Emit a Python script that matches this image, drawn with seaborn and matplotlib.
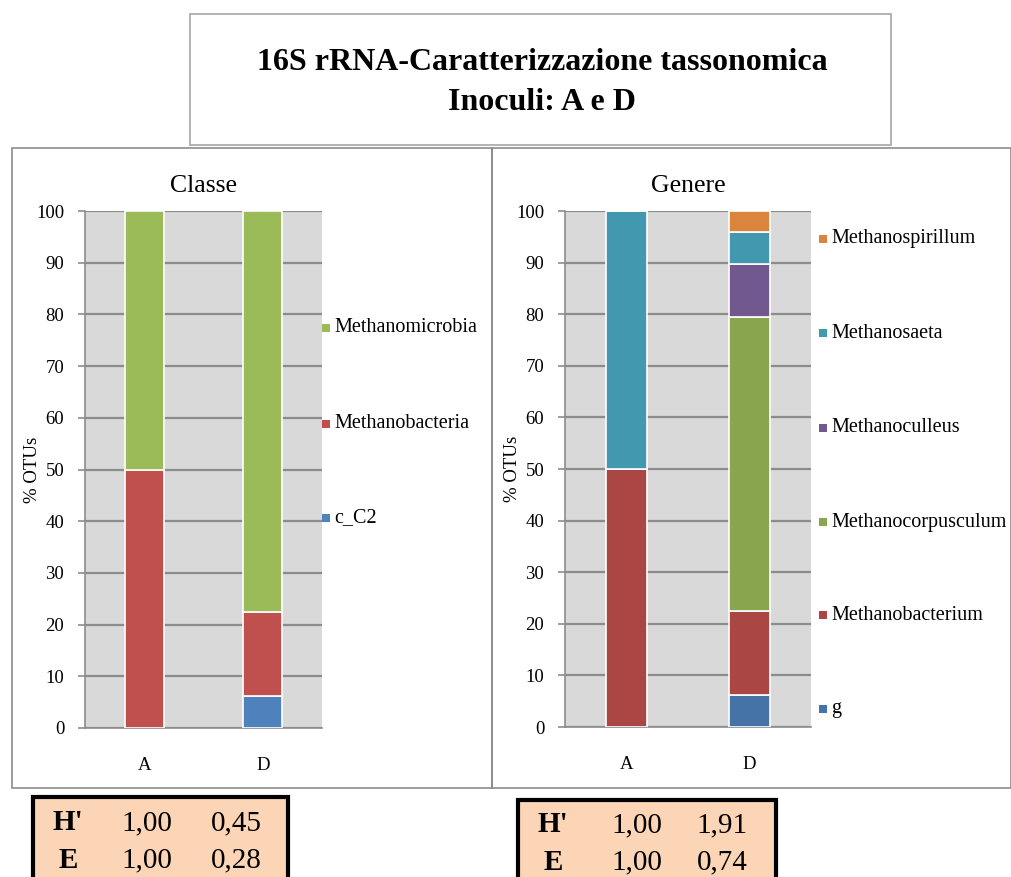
import matplotlib
matplotlib.use("Agg")
import matplotlib.pyplot as plt
from matplotlib.patches import Rectangle
import seaborn as sns
import numpy as np

# ---------------- data ----------------
categories = ["A", "D"]

class_series = ["c_C2", "Methanobacteria", "Methanomicrobia"]
class_c_C2 = [0.0, 6.2]
class_methanobacteria = [50.0, 16.2]
class_methanomicrobia = [50.0, 77.6]
class_colors = ["#4F81BD", "#C0504D", "#9BBB59"]

genus_series = ["g", "Methanobacterium", "Methanocorpusculum",
                "Methanoculleus", "Methanosaeta", "Methanospirillum"]
genus_g = [0.0, 6.2]
genus_methanobacterium = [50.0, 16.3]
genus_methanocorpusculum = [0.0, 57.0]
genus_methanoculleus = [0.0, 10.3]
genus_methanosaeta = [50.0, 6.1]
genus_methanospirillum = [0.0, 4.1]
genus_colors = ["#4572A7", "#AA4643", "#89A54E", "#71588F", "#4198AF", "#DB843D"]

y_ticks = [0, 10, 20, 30, 40, 50, 60, 70, 80, 90, 100]

table_rows = ["H'", "E"]
table_left = [["1,00", "0,45"], ["1,00", "0,28"]]
table_right = [["1,00", "1,91"], ["1,00", "0,74"]]

title_lines = ["16S rRNA-Caratterizzazione tassonomica", "Inoculi: A e D"]
# --------------------------------------

sns.set_theme(style="white")
plt.rcParams["font.family"] = ["Liberation Serif", "DejaVu Serif"]
plt.rcParams["text.color"] = "black"
plt.rcParams["xtick.color"] = "black"
plt.rcParams["ytick.color"] = "black"
plt.rcParams["axes.labelcolor"] = "black"

W, H = 1011, 877
fig = plt.figure(figsize=(W / 100, H / 100), dpi=100)
fig.patch.set_facecolor("white")


def fx(x):
    return x / W


def fy(y):
    return 1 - y / H


def frame(x0, y0, x1, y1, ec="#A6A6A6", lw=1.2, fc="none", z=0):
    fig.add_artist(Rectangle((fx(x0), fy(y1)), fx(x1) - fx(x0), fy(y0) - fy(y1),
                             transform=fig.transFigure, facecolor=fc,
                             edgecolor=ec, linewidth=lw, zorder=z))


# outer boxes
frame(190, 14, 891, 145)
frame(12, 148, 492, 788, ec="#8C8C8C")
frame(492, 148, 1011, 788, ec="#8C8C8C")

fig.text(fx(542), fy(63), title_lines[0], ha="center", va="center",
         fontsize=23, fontweight="bold")
fig.text(fx(542), fy(102), title_lines[1], ha="center", va="center",
         fontsize=23, fontweight="bold")


def draw_panel(rect, title, series, values, colors, legend_x, legend_ys):
    ax = fig.add_axes(rect)
    ax.set_facecolor("#D9D9D9")
    bottom = np.zeros(len(categories))
    for name, vals, col in zip(series, values, colors):
        sns.barplot(x=categories, y=vals, bottom=bottom, color=col, width=0.33,
                    edgecolor="white", linewidth=1.2, saturation=1, ax=ax,
                    zorder=3, order=categories)
        bottom = bottom + np.array(vals)
    ax.set_xlim(-0.5, 1.5)
    ax.set_ylim(0, 100)
    ax.set_yticks(y_ticks)
    ax.set_yticklabels([str(t) for t in y_ticks], fontsize=13.5)
    ax.yaxis.grid(True, color="#8C8C8C", linewidth=1.6, zorder=0)
    ax.set_axisbelow(True)
    ax.set_xticks([0, 1])
    ax.set_xticklabels(categories, fontsize=13.5)
    ax.set_xticks([-0.5, 0.5, 1.5], minor=True)
    ax.tick_params(axis="x", which="major", length=0, pad=21)
    ax.tick_params(axis="x", which="minor", length=5, color="#8C8C8C", width=1.2)
    ax.tick_params(axis="y", length=5, color="#8C8C8C", width=1.2, pad=10, left=True)
    for s in ["top", "right"]:
        ax.spines[s].set_visible(False)
    for s in ["left", "bottom"]:
        ax.spines[s].set_color("#8C8C8C")
        ax.spines[s].set_linewidth(1.2)
    ax.set_ylabel("% OTUs", fontsize=13.5)
    ax.yaxis.set_label_coords(-44 / (rect[2] * W), 0.5)
    ax.set_xlabel("")
    ax.set_title(title, fontsize=18.5, pad=14)
    # legend
    for name, col, ly in zip(series, colors, legend_ys):
        fig.add_artist(Rectangle((fx(legend_x), fy(ly + 4)), fx(8), 8 / H,
                                 transform=fig.transFigure, facecolor=col,
                                 edgecolor="none"))
        fig.text(fx(legend_x + 12), fy(ly), name, ha="left", va="center",
                 fontsize=14.5)
    return ax


ax1 = draw_panel([fx(85), fy(728), fx(322) - fx(85), fy(211) - fy(728)],
                 "Classe", class_series,
                 [class_c_C2, class_methanobacteria, class_methanomicrobia],
                 class_colors, 322, [518, 424, 328])

ax2 = draw_panel([fx(565), fy(727), fx(811) - fx(565), fy(211) - fy(727)],
                 "Genere", genus_series,
                 [genus_g, genus_methanobacterium, genus_methanocorpusculum,
                  genus_methanoculleus, genus_methanosaeta, genus_methanospirillum],
                 genus_colors, 819, [709, 615, 522, 428, 333, 239])


def draw_table(x0, x1, y0, row_ys, col_xs, data):
    frame(x0, y0, x1, y0 + 100, ec="black", lw=3, fc="#FBD5B5", z=1)
    for lab, ry, rowvals in zip(table_rows, row_ys, data):
        fig.text(fx(col_xs[0]), fy(ry), lab, ha="center", va="center",
                 fontsize=21, fontweight="bold", zorder=2)
        for cx, v in zip(col_xs[1:], rowvals):
            fig.text(fx(cx), fy(ry), v, ha="center", va="center",
                     fontsize=21, zorder=2)


draw_table(33, 288, 797, [823, 860], [68, 147, 236], table_left)
draw_table(518, 776, 800, [825, 862], [553, 637, 722], table_right)

fig.savefig("out.png", dpi=100)
